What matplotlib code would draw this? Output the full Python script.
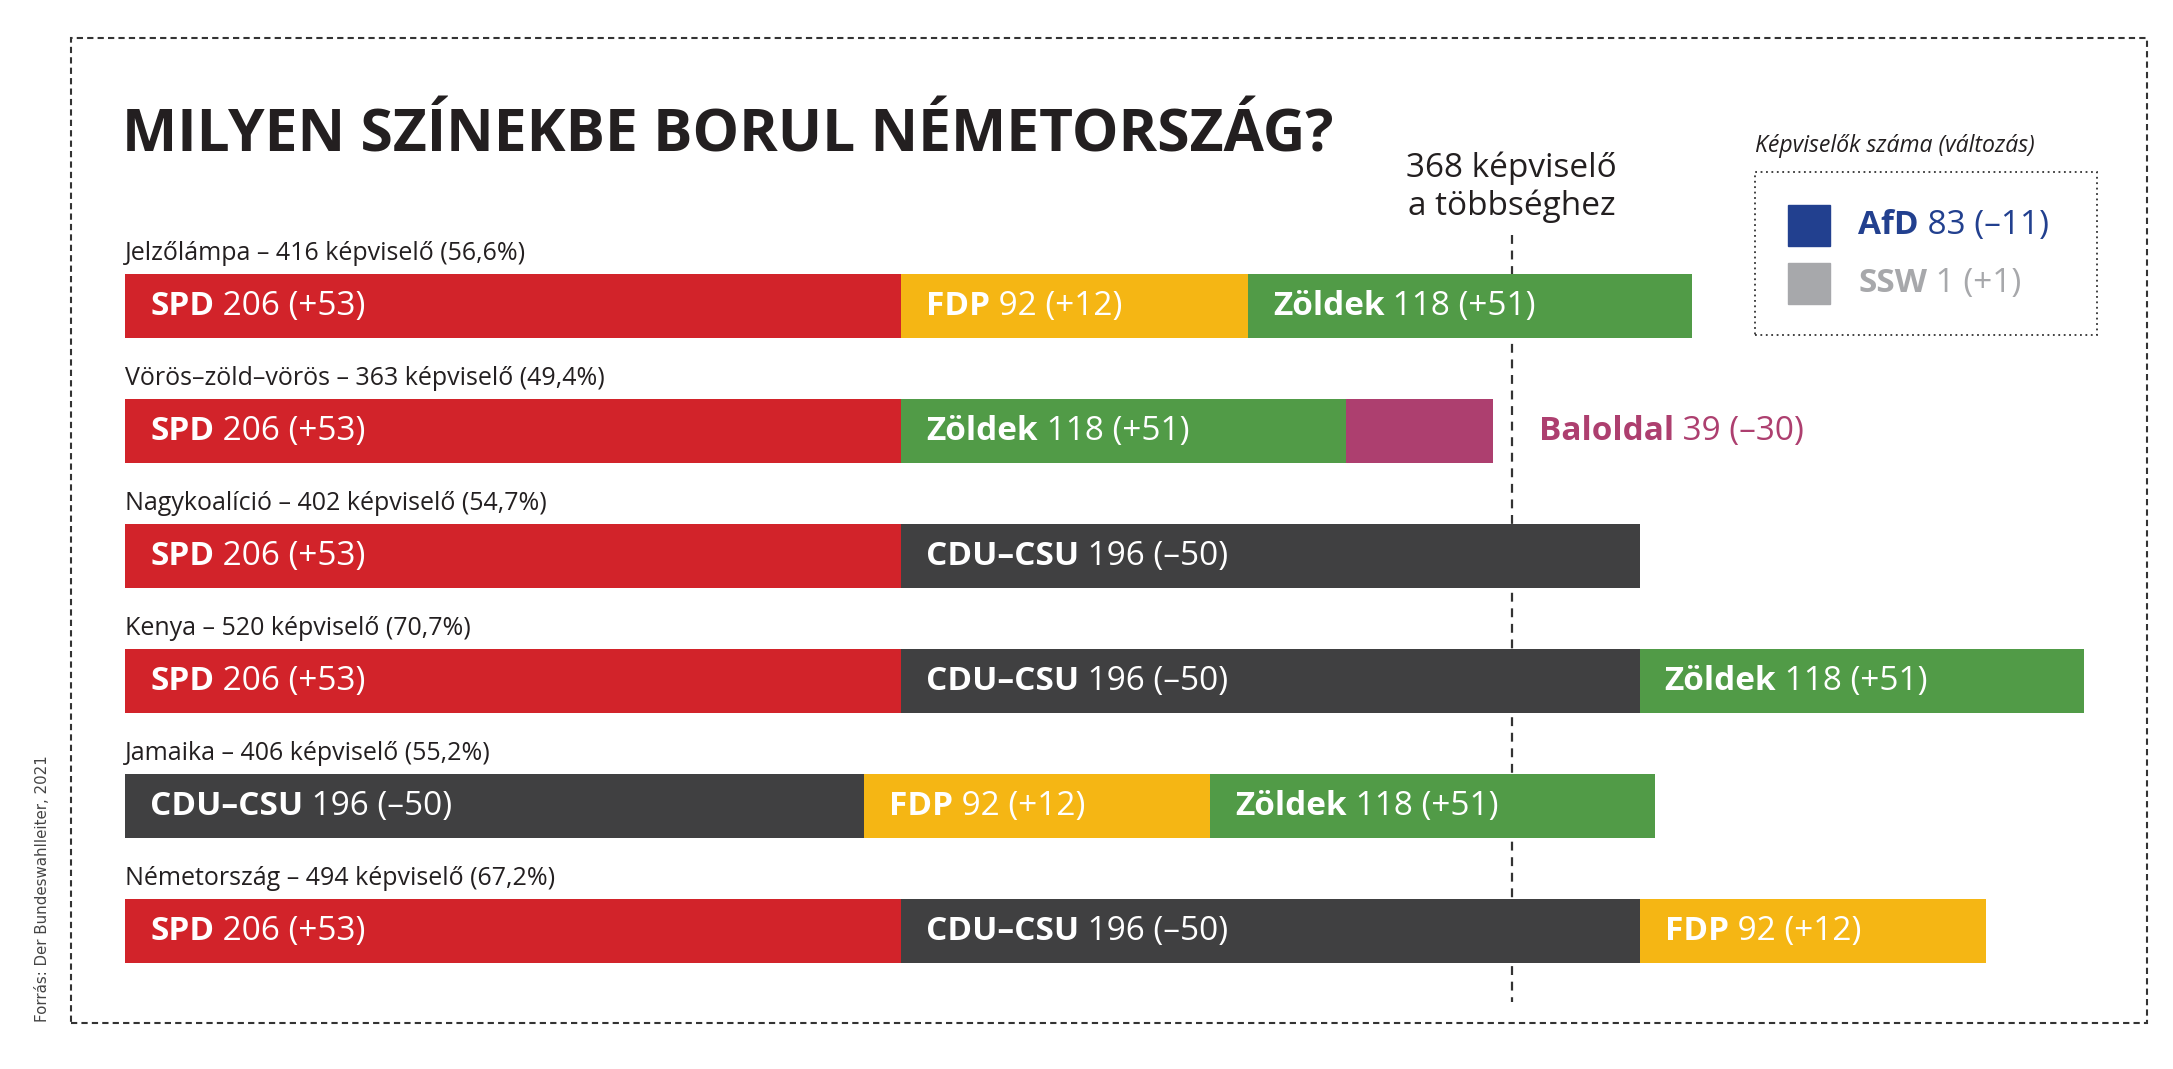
import matplotlib
matplotlib.use("Agg")
import matplotlib.pyplot as plt
from matplotlib.patches import Rectangle

W, H = 2173, 1069

# --- data ---
coalition_labels = [
    "Jelzőlámpa – 416 képviselő (56,6%)",
    "Vörös–zöld–vörös – 363 képviselő (49,4%)",
    "Nagykoalíció – 402 képviselő (54,7%)",
    "Kenya – 520 képviselő (70,7%)",
    "Jamaika – 406 képviselő (55,2%)",
    "Németország – 494 képviselő (67,2%)",
]
coalition_parties = [
    ["SPD", "FDP", "Zöldek"],
    ["SPD", "Zöldek", "Baloldal"],
    ["SPD", "CDU–CSU"],
    ["SPD", "CDU–CSU", "Zöldek"],
    ["CDU–CSU", "FDP", "Zöldek"],
    ["SPD", "CDU–CSU", "FDP"],
]
party_names = ["SPD", "CDU–CSU", "Zöldek", "FDP", "Baloldal", "AfD", "SSW"]
party_seats = [206, 196, 118, 92, 39, 83, 1]
party_change = ["+53", "–50", "+51", "+12", "–30", "–11", "+1"]
legend_parties = ["AfD", "SSW"]
majority = 368

colors = {
    "SPD": "#D2232A",
    "CDU–CSU": "#404041",
    "Zöldek": "#519B47",
    "FDP": "#F5B614",
    "Baloldal": "#AD3F6F",
    "AfD": "#22408F",
    "SSW": "#A7A8AB",
}
outside_label = ["Baloldal"]
seats = dict(zip(party_names, party_seats))
change = dict(zip(party_names, party_change))

plt.rcParams['font.family'] = ['Open Sans', 'DejaVu Sans']
ink = "#231F20"


def px(x, y):
    # pixel position (from top-left) -> figure fraction
    return x / W, 1 - y / H


fig = plt.figure(figsize=(W / 100, H / 100), dpi=100)

# bar axes: 0 seats at x=125px, 3.768 px per seat, rows 125px apart
left, top, bottom = 125, 181, 1056
ax = fig.add_axes([left / W, 1 - bottom / H, (W - left) / W, (bottom - top) / H])
ax.set_xlim(0, (W - left) / 3.768)
ax.set_ylim(6, -1)
ax.axis("off")

bar_h = 0.512
fs = 24
for i, (label, parties) in enumerate(zip(coalition_labels, coalition_parties)):
    ax.text(0, i - 0.368, label, fontsize=18, color=ink, va="baseline",
            ha="left", clip_on=False)
    start = 0
    for p in parties:
        ax.barh(i, seats[p], left=start, height=bar_h, color=colors[p],
                edgecolor="none", zorder=2)
        if p in outside_label:
            t1 = ax.annotate(p, xy=(start + seats[p], i + 0.075),
                             xytext=(33, 0), textcoords="offset points",
                             fontsize=fs, weight="bold", color=colors[p],
                             va="baseline", ha="left", zorder=3)
            c = colors[p]
        else:
            t1 = ax.annotate(p, xy=(start, i + 0.075), xytext=(18, 0),
                             textcoords="offset points", fontsize=fs,
                             weight="bold", color="white", va="baseline",
                             ha="left", zorder=3)
            c = "white"
        ax.annotate(" %d (%s)" % (seats[p], change[p]), xy=(1, 0),
                    xycoords=t1, fontsize=fs, color=c, va="bottom", ha="left",
                    zorder=3)
        start += seats[p]

# majority line (behind the bars)
ax.vlines(majority, (235 - 306) / 125, (1002 - 306) / 125, color="#333333",
          lw=1.6, linestyles=(0, (4, 3)), zorder=1)
ax.text(majority, (177 - 306) / 125, "368 képviselő", fontsize=fs, color=ink,
        ha="center", va="baseline", clip_on=False)
ax.text(majority, (215 - 306) / 125, "a többséghez", fontsize=fs, color=ink,
        ha="center", va="baseline", clip_on=False)

# title
fig.text(*px(122, 152), "MILYEN SZÍNEKBE BORUL NÉMETORSZÁG?", fontsize=42.2,
         weight="bold", color=ink, ha="left", va="baseline")

# legend
fig.text(*px(1755, 152), "Képviselők száma (változás)", fontsize=16.6,
         style="italic", color=ink, ha="left", va="baseline")
x0, y0 = px(1755, 335)
x1, y1 = px(2097, 172)
fig.patches.append(Rectangle((x0, y0), x1 - x0, y1 - y0, transform=fig.transFigure,
                             fill=False, edgecolor="#333333", lw=1.3,
                             linestyle=(0, (1, 2))))
for k, p in enumerate(legend_parties):
    ty = 205 + k * 58
    sx0, sy0 = px(1788, ty + 41)
    sx1, sy1 = px(1830, ty)
    fig.patches.append(Rectangle((sx0, sy0), sx1 - sx0, sy1 - sy0,
                                 transform=fig.transFigure, color=colors[p]))
    t1 = fig.text(*px(1858, ty + 29), p, fontsize=fs, weight="bold",
                  color=colors[p], ha="left", va="baseline")
    ax.annotate(" %d (%s)" % (seats[p], change[p]), xy=(1, 0), xycoords=t1,
                fontsize=fs, color=colors[p], va="bottom", ha="left",
                annotation_clip=False)

# outer dashed frame
bx0, by0 = px(71, 1023)
bx1, by1 = px(2147, 38)
fig.patches.append(Rectangle((bx0, by0), bx1 - bx0, by1 - by0,
                             transform=fig.transFigure, fill=False,
                             edgecolor="#333333", lw=1.5,
                             linestyle=(0, (3, 2))))

# source
fig.text(*px(43, 1022), "Forrás: Der Bundeswahlleiter, 2021", rotation=90,
         fontsize=10.8, family="DejaVu Sans", color="#444444", ha="center",
         va="bottom")

fig.savefig("out.png", dpi=100, facecolor="white")
